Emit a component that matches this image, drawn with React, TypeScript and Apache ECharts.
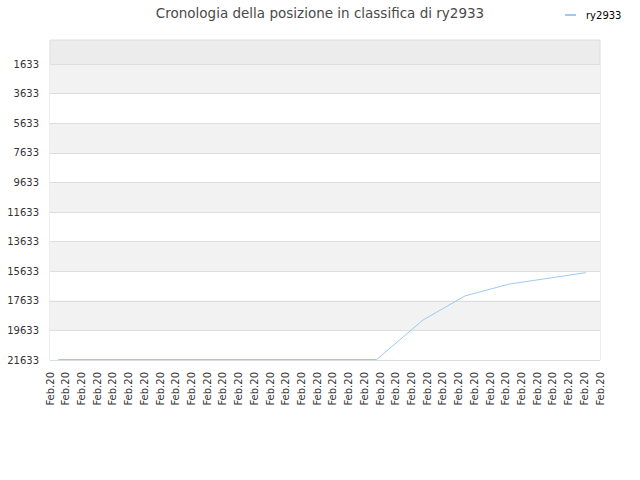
import { useEffect, useRef } from 'react';
import * as echarts from 'echarts';

const seriesName = 'ry2933';
const titleText = 'Cronologia della posizione in classifica di ry2933';

// one label per tick, the chart repeats the same date string
const dateLabels: string[] = Array.from({ length: 36 }, () => 'Feb.20');

// position on the date axis (in label steps) and rank at that point
const pointSteps = [0.53, 20.79, 23.74, 26.41, 29.17, 34.11];
const pointRanks = [21600, 21600, 18926, 17302, 16511, 15726];

const rankTicks = [1633, 3633, 5633, 7633, 9633, 11633, 13633, 15633, 17633, 19633, 21633];
const rankMin = 0;
const rankMax = 21633;

export default function App() {
  const chartRef = useRef<HTMLDivElement>(null);

  useEffect(() => {
    if (!chartRef.current) return;
    const chart = echarts.init(chartRef.current, undefined, { renderer: 'svg' });

    const option: echarts.EChartsOption = {
      animation: false,
      textStyle: { fontFamily: 'DejaVu Sans' },
      title: {
        text: titleText,
        left: 'center',
        top: 1,
        textStyle: { fontSize: 13.5, fontWeight: 'normal', color: '#4a4a4a', fontFamily: 'DejaVu Sans' },
      },
      legend: {
        data: [seriesName],
        left: 560,
        top: 5,
        icon: 'rect',
        itemWidth: 11,
        itemHeight: 2,
        textStyle: { fontSize: 10, color: '#000', padding: [0, 0, 0, 5] },
      },
      grid: {
        left: 50,
        right: 40,
        top: 40,
        bottom: 120,
        show: true,
        borderColor: '#dddddd',
        borderWidth: 1,
        backgroundColor: '#ececec',
      },
      xAxis: [
        {
          type: 'category',
          data: dateLabels,
          boundaryGap: false,
          axisLine: { show: false },
          axisTick: { show: false },
          splitLine: { show: false },
          axisLabel: { interval: 0, rotate: 90, fontSize: 10, color: '#333', margin: 12 },
        },
        {
          type: 'value',
          min: 0,
          max: dateLabels.length - 1,
          show: false,
        },
      ],
      yAxis: {
        type: 'value',
        inverse: true,
        min: rankMin,
        max: rankMax,
        axisLine: { show: false },
        axisTick: { show: false, customValues: rankTicks },
        axisLabel: {
          customValues: rankTicks,
          fontSize: 10,
          color: '#333',
          margin: 11,
          formatter: (v: number) => String(v),
        },
        splitLine: { show: true, lineStyle: { color: '#dddddd', width: 1 } },
        splitArea: { show: true, areaStyle: { color: ['#f2f2f2', '#ffffff'] } },
      },
      series: [
        {
          name: seriesName,
          type: 'line',
          xAxisIndex: 1,
          data: pointSteps.map((s, i) => [s, pointRanks[i]]),
          showSymbol: false,
          symbol: 'none',
          lineStyle: { color: '#9cc9f4', width: 1 },
          itemStyle: { color: '#9cc9f4' },
        },
      ],
    };

    chart.setOption(option);
    return () => chart.dispose();
  }, []);

  return (
    <div
      ref={chartRef}
      style={{ position: 'fixed', left: 0, top: 0, width: 640, height: 480, background: '#fff' }}
    />
  );
}
